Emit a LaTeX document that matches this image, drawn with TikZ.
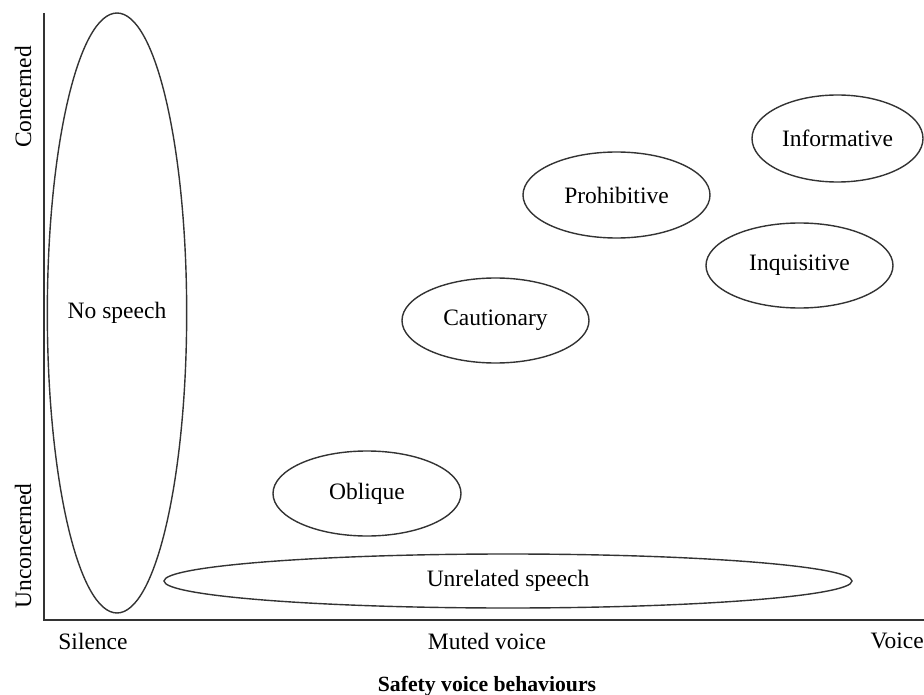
\documentclass[tikz,border=0pt]{standalone}
\usepackage{fontspec}
\setmainfont{Liberation Serif}
\usetikzlibrary{shapes.geometric}
\begin{document}
\begin{tikzpicture}[x=1pt,y=-1pt,
  oval/.style={ellipse,draw=black!80,line width=1.4pt,inner sep=0pt,font=\fontsize{23.5}{28}\selectfont},
  lab/.style={inner sep=0pt,font=\fontsize{23.5}{28}\selectfont},
  axis/.style={draw=black!80,line width=2pt}]
\useasboundingbox (0,0) rectangle (924,695);
\coordinate (top) at (44,13);
\coordinate (orig) at (44,620);
\coordinate (xend) at (924,620);
\draw[axis] (top) -- (orig) -- (xend);
\node[oval,minimum width=138,minimum height=600] (nospeech) at (117,313) {\raisebox{-2pt}{No speech}};
\node[oval,minimum width=688,minimum height=54] (unrelated) at (508,581) {Unrelated speech};
\node[oval,minimum width=188,minimum height=85] (oblique) at (367,493.5) {\raisebox{-2pt}{Oblique}};
\node[oval,minimum width=187,minimum height=85] (cautionary) at (495.5,320.5) {\raisebox{-2pt}{Cautionary}};
\node[oval,minimum width=187,minimum height=86] (prohibitive) at (616.5,195) {Prohibitive};
\node[oval,minimum width=171,minimum height=87] (informative) at (837.5,138.5) {Informative};
\node[oval,minimum width=187,minimum height=85] (inquisitive) at (799.5,265.5) {Inquisitive};
\node[lab,rotate=90] (concerned) at (23,97) {Concerned};
\node[lab,rotate=90] (unconcerned) at (23,546) {Unconcerned};
\node[lab] (silence) at (93,641) {Silence};
\node[lab] (muted) at (487,641) {Muted voice};
\node[lab,anchor=east] (voice) at (924,641) {Voice};
\node[lab,font=\fontsize{21.7}{26}\selectfont\bfseries] (title) at (487,686) {Safety voice behaviours};
\end{tikzpicture}
\end{document}
